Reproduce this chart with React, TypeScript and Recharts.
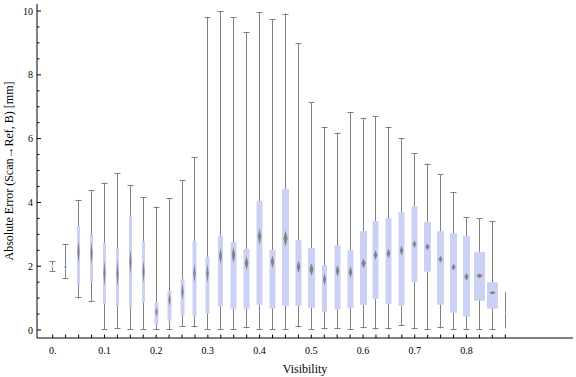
import React from 'react';
import { ComposedChart, Bar, XAxis, YAxis } from 'recharts';

// visibility bins (one box per bin)
const visibility = [
  0, 0.025, 0.05, 0.075, 0.1, 0.125, 0.15, 0.175, 0.2, 0.225, 0.25, 0.275,
  0.3, 0.325, 0.35, 0.375, 0.4, 0.425, 0.45, 0.475, 0.5, 0.525, 0.55, 0.575,
  0.6, 0.625, 0.65, 0.675, 0.7, 0.725, 0.75, 0.775, 0.8, 0.825, 0.85, 0.875,
];

const whiskerLow = [
  1.82, 1.59, 0.99, 0.89, 0, 0.03, 0, 0, 0, 0, 0.1, 0.08,
  0, 0, 0, 0.05, 0, 0, 0, 0.08, 0, 0.02, 0.02, 0,
  0.05, 0.02, 0.02, 0.13, 0.02, 0, 0.05, 0, 0, 0, 0, 0.05,
];

const quartile1 = [
  1.95, 1.9, 1.41, 1.51, 0.82, 0.73, 0.7, 0.86, 0.18, 0.28, 0.45, 0.42,
  0.51, 0.73, 0.67, 0.67, 0.79, 0.67, 0.76, 0.76, 0.7, 0.57, 0.64, 0.68,
  0.79, 0.97, 0.82, 0.76, 1.51, 1.83, 0.79, 0.54, 0.42, 0.92, 0.67, 0.5,
];

const median = [
  2.0, 1.98, 2.45, 2.4, 1.78, 1.76, 2.14, 1.83, 0.57, 0.94, 1.2, 1.78,
  1.78, 2.32, 2.35, 2.09, 2.93, 2.14, 2.87, 1.98, 1.9, 1.59, 1.86, 1.81,
  2.09, 2.35, 2.4, 2.49, 2.69, 2.61, 2.22, 1.97, 1.67, 1.7, 1.17, 0.52,
];

const quartile3 = [
  2.05, 2.05, 3.26, 3.0, 2.73, 2.56, 3.6, 2.79, 0.88, 1.22, 1.6, 2.79,
  2.3, 2.95, 2.76, 2.54, 4.04, 2.51, 4.42, 2.82, 2.57, 2.04, 2.65, 2.51,
  3.1, 3.42, 3.51, 3.7, 3.88, 3.39, 3.1, 3.03, 2.95, 2.45, 1.5, 0.54,
];

const whiskerHigh = [
  2.16, 2.7, 4.08, 4.39, 4.62, 4.91, 4.55, 4.16, 3.87, 4.14, 4.7, 5.42,
  9.82, 10.0, 9.81, 9.33, 9.96, 9.74, 9.92, 8.99, 7.14, 6.37, 6.19, 6.82,
  6.65, 6.7, 6.37, 6.01, 5.54, 5.22, 4.88, 4.32, 3.53, 3.5, 3.41, 1.19,
];

// half height of the median marker (mm)
const medianNotch = [
  0, 0.05, 0.35, 0.35, 0.4, 0.4, 0.4, 0.35, 0.15, 0.2, 0.25, 0.3,
  0.3, 0.25, 0.25, 0.22, 0.25, 0.2, 0.25, 0.2, 0.2, 0.2, 0.18, 0.18,
  0.15, 0.15, 0.15, 0.15, 0.12, 0.1, 0.1, 0.1, 0.12, 0.07, 0.05, 0,
];

const xLabelTicks = [0, 0.1, 0.2, 0.3, 0.4, 0.5, 0.6, 0.7, 0.8];
const yLabelTicks = [0, 2, 4, 6, 8, 10];
const yMinorTicks = [
  0, 0.5, 1, 1.5, 2, 2.5, 3, 3.5, 4, 4.5, 5, 5.5, 6, 6.5, 7, 7.5, 8, 8.5, 9, 9.5, 10,
];
const yRightTicks = [0, 1, 2, 3, 4, 5, 6, 7, 8, 9, 10];

// drawn box widths in px (style)
const boxWidths = [
  2, 2, 3, 3, 3, 3, 3, 3, 4, 4, 4, 4, 4, 5, 6, 6, 6, 6, 7, 6, 7, 5, 6, 6,
  7, 6, 6, 6, 6, 7, 7, 7, 7, 11, 11, 1,
];

const FONT = '"Liberation Serif", "Times New Roman", serif';
const BOX_FILL = '#cbd1f5';
const WHISKER = '#808080';

const data = visibility.map((vis, i) => ({
  vis,
  idx: i,
  range: [whiskerLow[i], whiskerHigh[i]],
  lo: whiskerLow[i],
  hi: whiskerHigh[i],
  q1: quartile1[i],
  med: median[i],
  q3: quartile3[i],
  notch: medianNotch[i],
}));

const BoxShape = (props: any) => {
  const { x, y, width, height, payload } = props;
  if (x == null || y == null || !payload) return null;
  const top = Math.min(y, y + height);
  const bottom = Math.max(y, y + height);
  const { lo, hi } = payload;
  const py = (v: number) => bottom - ((v - lo) / (hi - lo)) * (bottom - top);
  const cx = Math.round(x + width / 2) + 0.5;
  const bw = boxWidths[payload.idx];
  const last = payload.idx === visibility.length - 1;
  const yq1 = py(payload.q1);
  const yq3 = py(payload.q3);
  const ym = py(payload.med);
  const nh = payload.notch > 0 ? py(payload.med - payload.notch) - ym : 0;
  const dw = Math.max(2.2, bw * 0.6) / 2;
  return (
    <g>
      <defs>
        <filter id="medBlur" x="-50%" y="-50%" width="200%" height="200%">
          <feGaussianBlur stdDeviation="0.7" />
        </filter>
      </defs>
      <line x1={cx} x2={cx} y1={top} y2={bottom} stroke={WHISKER} strokeWidth={1} />
      {!last && (
        <>
          <line x1={cx - 3} x2={cx + 3} y1={Math.round(top) + 0.5} y2={Math.round(top) + 0.5} stroke={WHISKER} />
          <line x1={cx - 3} x2={cx + 3} y1={Math.round(bottom) - 0.5} y2={Math.round(bottom) - 0.5} stroke={WHISKER} />
        </>
      )}
      <rect x={cx - bw / 2} y={yq3} width={bw} height={Math.max(0.5, yq1 - yq3)} fill={BOX_FILL} />
      {nh > 0 && (
        <polygon
          points={`${cx},${ym - nh} ${cx + dw},${ym} ${cx},${ym + nh} ${cx - dw},${ym}`}
          fill="#7a7a7a"
          fillOpacity={0.9}
          filter="url(#medBlur)"
        />
      )}
    </g>
  );
};

const isLabelled = (v: number) => xLabelTicks.some((t) => Math.abs(t - v) < 1e-6);

const BottomTick = ({ x, y, payload }: any) => {
  const v = payload.value;
  return (
    <g>
      <line x1={x} x2={x} y1={y} y2={y - 3.5} stroke="#000" />
      {isLabelled(v) && (
        <text x={x} y={y + 16} textAnchor="middle" fontSize={10} fontFamily={FONT} fill="#000">
          {v === 0 ? '0.' : v.toFixed(1)}
        </text>
      )}
    </g>
  );
};

const TopTick = ({ x, y }: any) => <line x1={x} x2={x} y1={y} y2={y + 4} stroke="#000" />;

const LeftTick = ({ x, y, payload }: any) => {
  const v = payload.value;
  const major = yLabelTicks.includes(v);
  return (
    <g>
      <line x1={x} x2={x + (major ? 4 : 2.5)} y1={y} y2={y} stroke="#000" />
      {major && (
        <text x={x - 4} y={y + 3.5} textAnchor="end" fontSize={10} fontFamily={FONT} fill="#000">
          {v}
        </text>
      )}
    </g>
  );
};

const RightTick = ({ x, y }: any) => <line x1={x} x2={x - 3} y1={y} y2={y} stroke="#000" />;

const YLabel = ({ viewBox }: any) => {
  const cy = viewBox.y + viewBox.height / 2;
  return (
    <text
      x={13}
      y={cy}
      transform={`rotate(-90 13 ${cy})`}
      textAnchor="middle"
      fontSize={12}
      fontFamily={FONT}
      fill="#000"
    >
      Absolute Error (Scan→Ref, B) [mm]
    </text>
  );
};

const xDomain = [-0.0304, 1.006];
const yDomain = [-0.25, 10.22];

export default function App() {
  return (
    <div style={{ position: 'absolute', left: 0, top: 0, background: '#fff' }}>
      <ComposedChart width={576} height={377} data={data} margin={{ top: 4, right: 3, bottom: 0, left: 0 }}>
        <XAxis
          xAxisId="main"
          type="number"
          dataKey="vis"
          domain={xDomain}
          allowDataOverflow
          ticks={visibility}
          interval={0}
          height={39}
          tickSize={0}
          tickMargin={0}
          tickLine={false}
          axisLine={{ stroke: '#000' }}
          tick={(p: any) => <BottomTick {...p} />}
          label={{ value: 'Visibility', position: 'insideBottom', offset: 4, fontSize: 12, fontFamily: FONT, fill: '#000' }}
        />
        <XAxis
          xAxisId="top"
          orientation="top"
          type="number"
          dataKey="vis"
          domain={xDomain}
          allowDataOverflow
          ticks={visibility}
          interval={0}
          height={0}
          tickSize={0}
          tickMargin={0}
          tickLine={false}
          axisLine={{ stroke: '#000' }}
          tick={(p: any) => <TopTick {...p} />}
        />
        <YAxis
          yAxisId="left"
          type="number"
          domain={yDomain}
          allowDataOverflow
          ticks={yMinorTicks}
          interval={0}
          width={37}
          tickSize={0}
          tickMargin={0}
          tickLine={false}
          axisLine={{ stroke: '#000' }}
          tick={(p: any) => <LeftTick {...p} />}
          label={{ content: (p: any) => <YLabel {...p} /> }}
        />
        <YAxis
          yAxisId="right"
          orientation="right"
          type="number"
          domain={yDomain}
          allowDataOverflow
          ticks={yRightTicks}
          interval={0}
          width={0}
          tickSize={0}
          tickMargin={0}
          tickLine={false}
          axisLine={{ stroke: '#000' }}
          tick={(p: any) => <RightTick {...p} />}
        />
        <Bar
          xAxisId="main"
          yAxisId="left"
          dataKey="range"
          barSize={12}
          shape={BoxShape}
          isAnimationActive={false}
        />
      </ComposedChart>
    </div>
  );
}
